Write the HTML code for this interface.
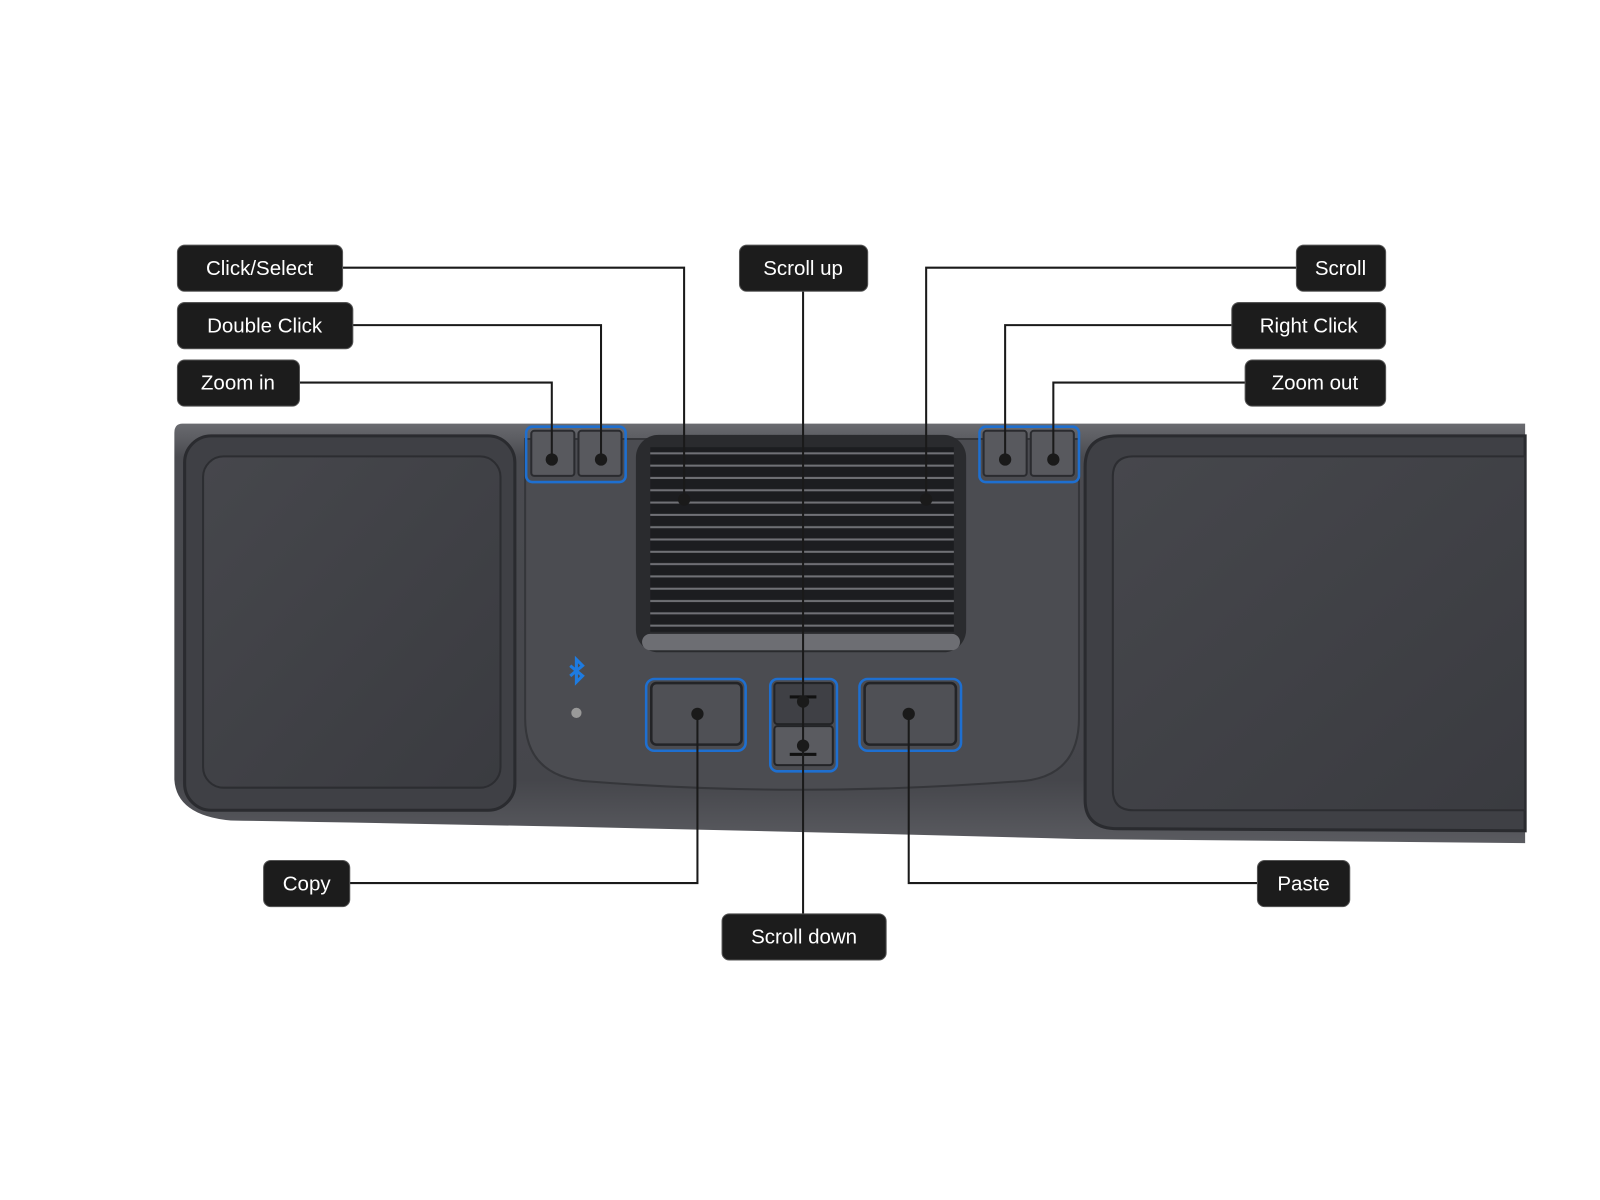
<!DOCTYPE html>
<html><head><meta charset="utf-8"><style>
html,body{margin:0;padding:0;background:#fff;}
svg{display:block;}
text{font-family:"Liberation Sans",sans-serif;font-size:20px;fill:#fff;text-anchor:middle;}
</style></head><body>
<svg width="1600" height="1200" viewBox="0 0 1560 1170" xmlns="http://www.w3.org/2000/svg">
<defs>
<linearGradient id="body" x1="0" y1="0" x2="0" y2="1">
<stop offset="0" stop-color="#6a6b70"/><stop offset="0.08" stop-color="#4a4b50"/><stop offset="0.85" stop-color="#45464b"/><stop offset="1" stop-color="#5a5b60"/></linearGradient>
<linearGradient id="pad" x1="0" y1="0" x2="1" y2="1">
<stop offset="0" stop-color="#46474c"/><stop offset="1" stop-color="#3a3b40"/></linearGradient>
<pattern id="grill" width="10" height="12" patternUnits="userSpaceOnUse">
<rect width="10" height="12" fill="#1c1d20"/><rect y="9" width="10" height="2" fill="#707176"/></pattern>
</defs>
<path d="M178,413 L1487,413 L1487,822 L1050,818 Q600,806 225,800 Q172,795 170,760 L170,422 Q170,413 178,413 Z" fill="url(#body)"/>
<rect x="180" y="425" width="322" height="365" rx="26" fill="#3f4045" stroke="#2a2b2f" stroke-width="3"/>
<rect x="198" y="445" width="290" height="323" rx="20" fill="url(#pad)" stroke="#2c2d31" stroke-width="2"/>
<path d="M1487,425 L1090,425 Q1058,425 1058,455 L1058,780 Q1058,808 1090,808 L1487,810 Z" fill="#3f4045" stroke="#2a2b2f" stroke-width="3"/>
<path d="M1487,445 L1105,445 Q1085,445 1085,465 L1085,770 Q1085,790 1105,790 L1487,790 Z" fill="url(#pad)" stroke="#2c2d31" stroke-width="2"/>
<path d="M512,428 L1052,428 L1052,700 Q1052,760 990,762 Q780,778 575,762 Q512,758 512,700 Z" fill="#4b4c51" stroke="#35363a" stroke-width="2"/>
<rect x="620" y="424" width="322" height="212" rx="22" fill="#2a2b2e"/>
<rect x="634" y="436" width="296" height="180" fill="url(#grill)"/>
<rect x="626" y="618" width="310" height="16" rx="8" fill="#6d6e73"/>
<rect x="513" y="416" width="97" height="54" rx="6" fill="none" stroke="#1e6fd0" stroke-width="2.5"/>
<rect x="518" y="420" width="42" height="44" rx="3" fill="#58595e" stroke="#2a2b2f" stroke-width="2"/>
<rect x="564" y="420" width="42" height="44" rx="3" fill="#58595e" stroke="#2a2b2f" stroke-width="2"/>
<rect x="955" y="416" width="97" height="54" rx="6" fill="none" stroke="#1e6fd0" stroke-width="2.5"/>
<rect x="959" y="420" width="42" height="44" rx="3" fill="#58595e" stroke="#2a2b2f" stroke-width="2"/>
<rect x="1005" y="420" width="42" height="44" rx="3" fill="#58595e" stroke="#2a2b2f" stroke-width="2"/>
<rect x="630" y="662" width="97" height="70" rx="8" fill="none" stroke="#1e6fd0" stroke-width="2.5"/>
<rect x="635" y="666" width="88" height="60" rx="5" fill="#4f5055" stroke="#232427" stroke-width="2.5"/>
<rect x="838" y="662" width="99" height="70" rx="8" fill="none" stroke="#1e6fd0" stroke-width="2.5"/>
<rect x="843" y="666" width="89" height="60" rx="5" fill="#4f5055" stroke="#232427" stroke-width="2.5"/>
<rect x="751" y="662" width="65" height="90" rx="7" fill="none" stroke="#1e6fd0" stroke-width="2.5"/>
<rect x="755" y="666" width="57" height="40" rx="3" fill="#3f4045" stroke="#232427" stroke-width="2"/>
<rect x="755" y="708" width="57" height="38" rx="3" fill="#5a5b60" stroke="#232427" stroke-width="2"/>
<rect x="770" y="678" width="26" height="3" fill="#111"/>
<rect x="770" y="734" width="26" height="3" fill="#111"/>
<path d="M556,649 L568,659 L562,665 L562,643 L568,649 L556,659" stroke="#1e7be0" stroke-width="3" fill="none"/>
<circle cx="562" cy="695" r="5" fill="#999"/>
<g stroke="#1a1a1a" stroke-width="2" fill="none">
<polyline points="334,261 667,261 667,487"/>
<polyline points="344,317 586,317 586,448"/>
<polyline points="292,373 538,373 538,448"/>
<polyline points="783,284 783,891"/>
<polyline points="1264,261 903,261 903,487"/>
<polyline points="1201,317 980,317 980,448"/>
<polyline points="1214,373 1027,373 1027,448"/>
<polyline points="341,861 680,861 680,696"/>
<polyline points="1226,861 886,861 886,696"/>
</g>
<g fill="#1a1a1a">
<circle cx="667" cy="487" r="6"/><circle cx="586" cy="448" r="6"/><circle cx="538" cy="448" r="6"/>
<circle cx="903" cy="487" r="6"/><circle cx="980" cy="448" r="6"/><circle cx="1027" cy="448" r="6"/>
<circle cx="680" cy="696" r="6"/><circle cx="886" cy="696" r="6"/>
<circle cx="783" cy="684" r="6"/><circle cx="783" cy="727" r="6"/>
</g>
<g fill="#1c1c1c" stroke="#555" stroke-width="1">
<rect x="173" y="239" width="161" height="45" rx="7"/>
<rect x="173" y="295" width="171" height="45" rx="7"/>
<rect x="173" y="351" width="119" height="45" rx="7"/>
<rect x="721" y="239" width="125" height="45" rx="7"/>
<rect x="1264" y="239" width="87" height="45" rx="7"/>
<rect x="1201" y="295" width="150" height="45" rx="7"/>
<rect x="1214" y="351" width="137" height="45" rx="7"/>
<rect x="257" y="839" width="84" height="45" rx="7"/>
<rect x="1226" y="839" width="90" height="45" rx="7"/>
<rect x="704" y="891" width="160" height="45" rx="7"/>
</g>
<text x="253" y="268">Click/Select</text>
<text x="258" y="324">Double Click</text>
<text x="232" y="380">Zoom in</text>
<text x="783" y="268">Scroll up</text>
<text x="1307" y="268">Scroll</text>
<text x="1276" y="324">Right Click</text>
<text x="1282" y="380">Zoom out</text>
<text x="299" y="868">Copy</text>
<text x="1271" y="868">Paste</text>
<text x="784" y="920">Scroll down</text>
</svg>
</body></html>
